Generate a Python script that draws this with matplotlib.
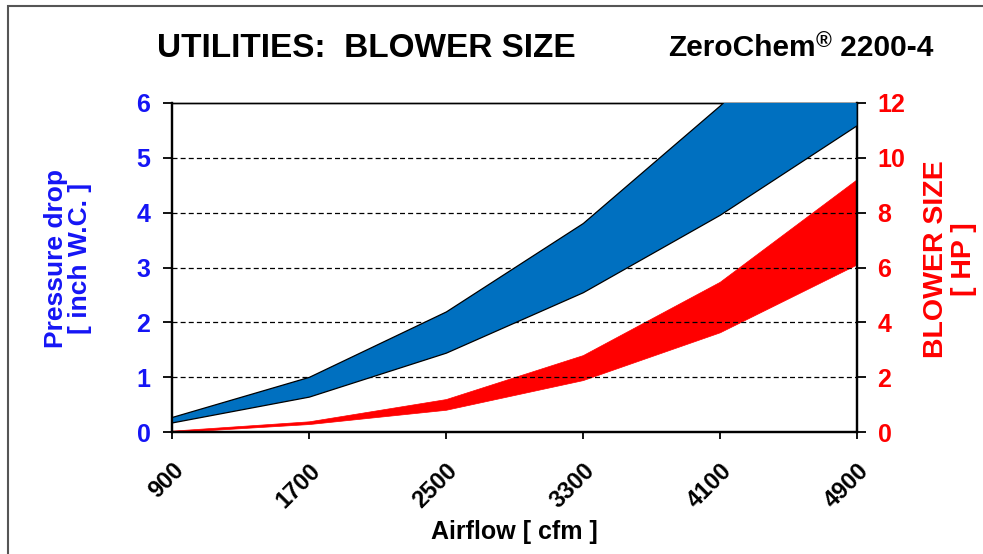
import matplotlib
matplotlib.use("Agg")
import matplotlib.pyplot as plt
from matplotlib.patches import Rectangle

airflow = [900, 1700, 2500, 3300, 4100, 4900]
pressure_high = [0.28, 1.01, 2.20, 3.81, 5.95, 8.30]
pressure_low = [0.18, 0.65, 1.45, 2.55, 3.96, 5.59]
hp_high = [0.06, 0.40, 1.21, 2.81, 5.48, 9.21]
hp_low = [0.00, 0.30, 0.82, 1.90, 3.64, 6.11]
left_ticks = [0, 1, 2, 3, 4, 5, 6]
right_ticks = [0, 2, 4, 6, 8, 10, 12]

plt.rcParams['font.family'] = ['Liberation Sans', 'DejaVu Sans']
plt.rcParams['font.weight'] = 'bold'

W, H = 983, 554
BLUE_FILL = '#0070C0'
BLUE_TXT = '#1515F5'
RED = '#FF0000'

fig = plt.figure(figsize=(W / 100, H / 100), dpi=100)
fig.patches.append(Rectangle((8 / W, -0.1), 1.2, 1 - 6.5 / H + 0.1, transform=fig.transFigure,
                             fill=False, edgecolor='#555555', linewidth=1.5))

ax = fig.add_axes([172 / W, 1 - 432.3 / H, (856.7 - 172) / W, (432.3 - 102.7) / H])
ax2 = ax.twinx()
ax.set_zorder(ax2.get_zorder() + 1)
ax.patch.set_visible(False)

ax.fill_between(airflow, pressure_low, pressure_high, facecolor=BLUE_FILL,
                edgecolor='black', linewidth=0.9, zorder=3)
ax2.fill_between(airflow, hp_low, hp_high, facecolor=RED, edgecolor=RED, linewidth=0.5)

ax.set_xlim(900, 4900)
ax.set_ylim(0, 6)
ax2.set_ylim(0, 12)
ax.set_xticks(airflow)
ax.set_xticklabels([str(a) for a in airflow], rotation=45, ha='right', va='top',
                   rotation_mode='anchor', fontsize=17, fontweight='bold')
ax.set_yticks(left_ticks)
ax.set_yticklabels([str(t) for t in left_ticks], fontsize=18, fontweight='bold', color=BLUE_TXT)
ax2.set_yticks(right_ticks)
ax2.set_yticklabels([str(t) for t in right_ticks], fontsize=18, fontweight='bold', color=RED)

for a in (ax, ax2):
    for s in ('left', 'right', 'bottom'):
        a.spines[s].set_linewidth(1.6)
    a.spines['top'].set_linewidth(1.0)

ax.tick_params(axis='y', direction='out', length=6.5, width=1.3, pad=9)
ax.tick_params(axis='x', direction='out', length=5, width=1.3, pad=14)
ax2.tick_params(axis='y', direction='out', length=6.5, width=1.3, pad=8.5)

for y in left_ticks[1:-1]:
    ax.axhline(y, color='black', linestyle=(0, (4, 2.5)), linewidth=0.9, zorder=1)

fig.text(514.5 / W, 1 - 539 / H, 'Airflow [ cfm ]', fontsize=18, fontweight='bold',
         ha='center', va='baseline')
fig.text(67.5 / W, 1 - 258 / H, 'Pressure drop\n[ inch W.C. ]', fontsize=19, fontweight='bold',
         color=BLUE_TXT, rotation=90, ha='center', va='center', multialignment='center',
         linespacing=1.0)
fig.text(950 / W, 1 - 259 / H, 'BLOWER SIZE\n[ HP ]', fontsize=20.5, fontweight='bold',
         color=RED, rotation=90, ha='center', va='center', multialignment='center',
         linespacing=1.08)

fig.text(157 / W, 1 - 56.7 / H, 'UTILITIES:  BLOWER SIZE', fontsize=24, fontweight='bold',
         ha='left', va='baseline')

# "ZeroChem® 2200-4" with a raised registered sign
fig.canvas.draw()
renderer = fig.canvas.get_renderer()
base_y = 1 - 56 / H
t1 = fig.text(668 / W, base_y, 'ZeroChem', fontsize=21.5, fontweight='bold', ha='left', va='baseline')
bb1 = t1.get_window_extent(renderer)
t2 = fig.text(bb1.x1 / W + 0.5 / W, base_y + 9 / H, '\u00ae', fontsize=15.5, fontweight='bold',
              ha='left', va='baseline')
bb2 = t2.get_window_extent(renderer)
fig.text(bb2.x1 / W, base_y, ' 2200-4', fontsize=21.5, fontweight='bold', ha='left', va='baseline')

fig.savefig('out.png', dpi=100)
